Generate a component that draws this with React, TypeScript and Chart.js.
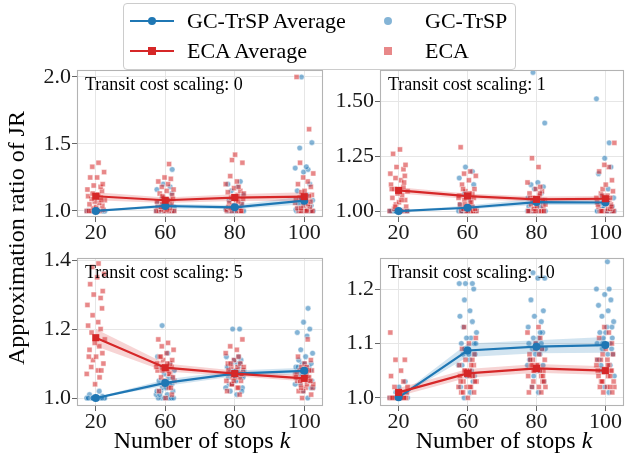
import React, { useEffect, useRef } from "react";
import Chart from "chart.js/auto";

// ---------- data ----------
const X_POS = [0, 1, 2, 3];
const X_LABELS = ["20", "60", "80", "100"];

const JITTER = [-0.12, 0.07, -0.03, 0.1, -0.08, 0.02, 0.12, -0.05, 0.04, -0.1, 0.08, -0.01, 0.055, -0.13, 0.03,
  -0.065, 0.11, -0.04, 0.005, 0.095, -0.09, 0.05, -0.015, 0.13, -0.06, 0.07, -0.11, 0.035, -0.045, 0.09];

// Transit cost scaling: 0
const GC0 = [
  [1, 1, 1, 1, 1, 1, 1, 1, 1, 1, 1, 1, 1, 1, 1, 1, 1, 1, 1, 1, 1, 1, 1, 1, 1, 1.003, 1.005, 1.01, 1, 1],
  [1, 1, 1, 1, 1, 1, 1, 1, 1, 1, 1, 1, 1.01, 1.01, 1.02, 1.02, 1.03, 1.04, 1.05, 1.06, 1.08, 1.1, 1.13, 1.16, 1.18, 1.2, 1.31, 1, 1.02, 1],
  [1, 1, 1, 1, 1, 1, 1, 1, 1, 1, 1, 1, 1, 1, 1.01, 1.01, 1.02, 1.03, 1.04, 1.06, 1.08, 1.1, 1.12, 1.15, 1.18, 1.2, 1.22, 1, 1, 1.01],
  [1, 1, 1, 1, 1, 1, 1, 1, 1, 1.01, 1.02, 1.03, 1.04, 1.05, 1.06, 1.08, 1.1, 1.12, 1.15, 1.2, 1.29, 1.31, 1.32, 1.33, 1.47, 1.51, 2.0, 1, 1, 1.01],
];
const ECA0 = [
  [1, 1, 1, 1, 1, 1.01, 1.02, 1.03, 1.04, 1.05, 1.06, 1.07, 1.08, 1.09, 1.1, 1.11, 1.12, 1.13, 1.15, 1.16, 1.18, 1.19, 1.2, 1.25, 1.25, 1.29, 1.33, 1.36, 1, 1.08],
  [1, 1, 1, 1, 1, 1, 1.01, 1.02, 1.03, 1.04, 1.05, 1.06, 1.07, 1.08, 1.1, 1.12, 1.13, 1.15, 1.16, 1.18, 1.2, 1.22, 1.24, 1.25, 1.35, 1, 1.01, 1.03, 1.09, 1.11],
  [1, 1, 1, 1, 1, 1.01, 1.02, 1.04, 1.05, 1.06, 1.08, 1.09, 1.1, 1.12, 1.14, 1.15, 1.17, 1.18, 1.2, 1.22, 1.26, 1.36, 1.38, 1.42, 1, 1.03, 1.07, 1.11, 1.13, 1.02],
  [1, 1, 1, 1, 1, 1, 1.01, 1.02, 1.03, 1.04, 1.05, 1.06, 1.08, 1.1, 1.12, 1.14, 1.15, 1.18, 1.2, 1.22, 1.25, 1.28, 1.36, 1.61, 2.0, 1, 1.02, 1.07, 1.09, 1.11],
];
const GC0_MEAN = [1.0, 1.037, 1.027, 1.077];
const GC0_LO = [1.0, 1.02, 1.012, 1.05];
const GC0_HI = [1.002, 1.052, 1.045, 1.11];
const ECA0_MEAN = [1.11, 1.08, 1.1, 1.107];
const ECA0_LO = [1.08, 1.06, 1.075, 1.075];
const ECA0_HI = [1.14, 1.1, 1.125, 1.14];

// Transit cost scaling: 1
const GC1 = [
  [1, 1, 1, 1, 1, 1, 1, 1, 1, 1, 1, 1, 1, 1, 1, 1, 1, 1, 1, 1, 1, 1, 1, 1, 1, 1.003, 1, 1.002, 1, 1],
  [1, 1, 1, 1, 1, 1, 1, 1, 1, 1, 1, 1, 1, 1, 1, 1, 1.01, 1.01, 1.02, 1.03, 1.05, 1.08, 1.12, 1.15, 1.18, 1.2, 1, 1, 1, 1],
  [1, 1, 1, 1, 1, 1, 1, 1, 1, 1, 1, 1.01, 1.02, 1.03, 1.04, 1.05, 1.06, 1.08, 1.1, 1.11, 1.12, 1.13, 1.4, 1.63, 1, 1, 1, 1.01, 1.02, 1],
  [1, 1, 1, 1, 1, 1, 1, 1, 1, 1, 1, 1.01, 1.02, 1.03, 1.04, 1.06, 1.07, 1.1, 1.17, 1.2, 1.24, 1.31, 1.51, 1, 1, 1, 1.01, 1, 1.02, 1],
];
const ECA1 = [
  [1, 1, 1, 1, 1.01, 1.02, 1.03, 1.04, 1.05, 1.06, 1.07, 1.08, 1.09, 1.1, 1.11, 1.12, 1.14, 1.15, 1.16, 1.17, 1.19, 1.2, 1.21, 1.26, 1.28, 1, 1.02, 1.05, 1.1, 1.13],
  [1, 1, 1, 1, 1, 1, 1.01, 1.02, 1.03, 1.04, 1.05, 1.06, 1.07, 1.08, 1.09, 1.1, 1.12, 1.14, 1.16, 1.17, 1.18, 1.29, 1, 1.02, 1.04, 1.06, 1.08, 1.1, 1.01, 1.03],
  [1, 1, 1, 1, 1, 1, 1, 1.01, 1.02, 1.03, 1.04, 1.05, 1.06, 1.07, 1.08, 1.09, 1.1, 1.11, 1.13, 1.2, 1.24, 1, 1.01, 1.02, 1.04, 1.06, 1.08, 1, 1.03, 1.05],
  [1, 1, 1, 1, 1, 1, 1.01, 1.02, 1.03, 1.04, 1.05, 1.06, 1.07, 1.08, 1.09, 1.1, 1.12, 1.14, 1.18, 1.2, 1.21, 1.31, 1, 1.01, 1.03, 1.05, 1.07, 1.02, 1.04, 1.06],
];
const GC1_MEAN = [1.0, 1.015, 1.041, 1.039];
const GC1_LO = [1.0, 1.008, 1.028, 1.027];
const GC1_HI = [1.001, 1.025, 1.057, 1.056];
const ECA1_MEAN = [1.094, 1.068, 1.053, 1.056];
const ECA1_LO = [1.08, 1.055, 1.042, 1.044];
const ECA1_HI = [1.108, 1.08, 1.066, 1.068];

// Transit cost scaling: 5
const GC5 = [
  [1, 1, 1, 1, 1, 1, 1, 1, 1, 1, 1, 1, 1, 1, 1, 1, 1, 1, 1, 1.005, 1.01, 1.02, 1, 1, 1, 1, 1, 1, 1, 1],
  [1, 1, 1, 1, 1, 1, 1.01, 1.01, 1.02, 1.02, 1.03, 1.03, 1.04, 1.05, 1.06, 1.07, 1.08, 1.09, 1.1, 1.12, 1.13, 1.21, 1, 1.02, 1.04, 1.05, 1.06, 1.01, 1.03, 1],
  [1.01, 1.02, 1.03, 1.04, 1.05, 1.06, 1.06, 1.07, 1.07, 1.08, 1.08, 1.09, 1.09, 1.1, 1.1, 1.11, 1.12, 1.2, 1.2, 1.02, 1.04, 1.05, 1.06, 1.07, 1.08, 1.09, 1.1, 1.11, 1.12, 1.03],
  [1, 1.02, 1.03, 1.04, 1.05, 1.06, 1.07, 1.08, 1.08, 1.09, 1.09, 1.1, 1.1, 1.11, 1.12, 1.13, 1.14, 1.18, 1.19, 1.2, 1.22, 1.26, 1.04, 1.06, 1.07, 1.05, 1.08, 1.1, 1.03, 1.09],
];
const ECA5 = [
  [1.04, 1.06, 1.07, 1.08, 1.09, 1.1, 1.11, 1.12, 1.13, 1.14, 1.15, 1.16, 1.17, 1.19, 1.2, 1.21, 1.22, 1.24, 1.26, 1.27, 1.29, 1.3, 1.31, 1.33, 1.35, 1.36, 1.38, 1.39, 1.12, 1.08],
  [1, 1.01, 1.02, 1.03, 1.04, 1.05, 1.06, 1.07, 1.08, 1.08, 1.09, 1.09, 1.1, 1.1, 1.11, 1.11, 1.12, 1.13, 1.14, 1.15, 1.16, 1.17, 1.03, 1.05, 1.07, 1.09, 1.1, 1.12, 1.06, 1.08],
  [1.01, 1.02, 1.03, 1.04, 1.05, 1.05, 1.06, 1.06, 1.07, 1.07, 1.08, 1.08, 1.09, 1.09, 1.1, 1.1, 1.11, 1.12, 1.13, 1.14, 1.15, 1.17, 1.04, 1.06, 1.07, 1.08, 1.03, 1.05, 1.09, 1.1],
  [1, 1.01, 1.02, 1.03, 1.03, 1.04, 1.04, 1.05, 1.05, 1.06, 1.06, 1.07, 1.07, 1.08, 1.08, 1.09, 1.1, 1.11, 1.12, 1.17, 1.02, 1.04, 1.05, 1.06, 1.07, 1.09, 1.03, 1.05, 1.06, 1.08],
];
const GC5_MEAN = [1.0, 1.044, 1.071, 1.079];
const GC5_LO = [1.0, 1.035, 1.063, 1.07];
const GC5_HI = [1.002, 1.054, 1.08, 1.088];
const ECA5_MEAN = [1.175, 1.088, 1.071, 1.057];
const ECA5_LO = [1.15, 1.077, 1.063, 1.049];
const ECA5_HI = [1.2, 1.1, 1.08, 1.066];

// Transit cost scaling: 10
const GC10 = [
  [1, 1, 1, 1, 1, 1, 1, 1, 1, 1, 1, 1, 1, 1, 1, 1, 1.005, 1.01, 1.02, 1.03, 1, 1, 1, 1, 1, 1, 1, 1, 1, 1],
  [1, 1.01, 1.02, 1.03, 1.04, 1.05, 1.06, 1.07, 1.08, 1.08, 1.09, 1.09, 1.1, 1.1, 1.11, 1.11, 1.12, 1.13, 1.14, 1.15, 1.16, 1.18, 1.2, 1.21, 1.21, 1.21, 1.04, 1.06, 1.08, 1.1],
  [1.01, 1.02, 1.03, 1.04, 1.05, 1.06, 1.07, 1.08, 1.08, 1.09, 1.09, 1.1, 1.1, 1.11, 1.11, 1.12, 1.13, 1.14, 1.15, 1.16, 1.18, 1.22, 1.22, 1.23, 1.05, 1.07, 1.09, 1.1, 1.12, 1.06],
  [1.01, 1.02, 1.04, 1.05, 1.06, 1.07, 1.08, 1.09, 1.09, 1.1, 1.1, 1.11, 1.11, 1.12, 1.13, 1.14, 1.15, 1.16, 1.17, 1.18, 1.19, 1.2, 1.2, 1.25, 1.06, 1.08, 1.1, 1.12, 1.13, 1.07],
];
const ECA10 = [
  [1, 1, 1, 1, 1, 1, 1, 1, 1, 1, 1.01, 1.01, 1.02, 1.02, 1.03, 1.04, 1.05, 1.07, 1.07, 1.12, 1, 1, 1, 1, 1.005, 1.01, 1, 1, 1, 1],
  [1, 1.01, 1.01, 1.02, 1.02, 1.03, 1.03, 1.04, 1.04, 1.05, 1.05, 1.06, 1.06, 1.07, 1.07, 1.08, 1.09, 1.1, 1.11, 1.13, 1.02, 1.03, 1.04, 1.05, 1.06, 1.02, 1.04, 1.01, 1.03, 1.05],
  [1.01, 1.01, 1.02, 1.03, 1.03, 1.04, 1.04, 1.05, 1.05, 1.06, 1.06, 1.07, 1.07, 1.08, 1.08, 1.09, 1.1, 1.11, 1.12, 1.13, 1.02, 1.03, 1.05, 1.06, 1.04, 1.07, 1.05, 1.09, 1.02, 1.06],
  [1.01, 1.01, 1.02, 1.02, 1.03, 1.03, 1.04, 1.04, 1.05, 1.05, 1.06, 1.06, 1.07, 1.07, 1.08, 1.08, 1.09, 1.1, 1.11, 1.12, 1.13, 1.02, 1.03, 1.04, 1.05, 1.06, 1.03, 1.05, 1.07, 1.02],
];
const GC10_MEAN = [1.001, 1.087, 1.094, 1.097];
const GC10_LO = [1.0, 1.075, 1.082, 1.083];
const GC10_HI = [1.003, 1.1, 1.106, 1.112];
const ECA10_MEAN = [1.01, 1.045, 1.054, 1.05];
const ECA10_LO = [1.003, 1.037, 1.046, 1.042];
const ECA10_HI = [1.018, 1.053, 1.062, 1.058];

const Y_TICKS_0 = [1.0, 1.5, 2.0];
const Y_LABELS_0 = ["1.0", "1.5", "2.0"];
const Y_TICKS_1 = [1.0, 1.25, 1.5];
const Y_LABELS_1 = ["1.00", "1.25", "1.50"];
const Y_TICKS_5 = [1.0, 1.2, 1.4];
const Y_LABELS_5 = ["1.0", "1.2", "1.4"];
const Y_TICKS_10 = [1.0, 1.1, 1.2];
const Y_LABELS_10 = ["1.0", "1.1", "1.2"];

const SCALINGS = ["0", "1", "5", "10"];

// ---------- styling ----------
const FONT = "'Liberation Serif', 'Times New Roman', Times, serif";
const BLUE = "#1f77b4";
const RED = "#d62728";

const framePlugin = {
  id: "frame",
  afterDraw(chart: any) {
    const { ctx, chartArea } = chart;
    const { left, top, right, bottom } = chartArea;
    ctx.save();
    ctx.strokeStyle = "#b3b3b3";
    ctx.lineWidth = 1.1;
    ctx.strokeRect(Math.round(left) + 0.5, Math.round(top) + 0.5, Math.round(right - left) - 1, Math.round(bottom - top) - 1);
    ctx.restore();
  },
};

function scatterPts(groups: number[][], shift: number) {
  const pts: { x: number; y: number }[] = [];
  groups.forEach((vals, ci) =>
    vals.forEach((v, i) => pts.push({ x: X_POS[ci] + JITTER[(i + ci * 7 + shift) % JITTER.length], y: v }))
  );
  return pts;
}
const linePts = (arr: number[]) => arr.map((v, i) => ({ x: X_POS[i], y: v }));

type PanelProps = {
  L: number; T: number; R: number; B: number;
  yMin: number; yMax: number; yTicks: number[]; yLabels: string[];
  gc: number[][]; eca: number[][];
  gcMean: number[]; gcLo: number[]; gcHi: number[];
  ecaMean: number[]; ecaLo: number[]; ecaHi: number[];
  scaling: string;
};

const Y_W = 70;
const X_H = 34;
const PAD_T = 14;

function Panel(p: PanelProps) {
  const ref = useRef<HTMLCanvasElement | null>(null);
  const cl = p.L - Y_W;
  const ct = p.T - PAD_T;
  const cr = Math.min(629, p.R + 1);
  const cw = cr - cl;
  const ch = p.B + X_H - ct;
  useEffect(() => {
    if (!ref.current) return;
    const chart = new Chart(ref.current, {
      type: "scatter",
      data: {
        datasets: [
          {
            type: "scatter", data: scatterPts(p.gc, 0), order: 6, pointStyle: "circle", pointRadius: 2.8,
            backgroundColor: "rgba(31,119,180,0.55)", borderColor: "rgba(255,255,255,0.75)", borderWidth: 0.6,
          },
          {
            type: "scatter", data: scatterPts(p.eca, 11), order: 5, pointStyle: "rect", pointRadius: 3.6,
            backgroundColor: "rgba(214,39,40,0.55)", borderColor: "rgba(255,255,255,0.75)", borderWidth: 0.6,
          },
          { type: "line", data: linePts(p.gcHi), order: 4, showLine: true, borderWidth: 0, pointRadius: 0, fill: false },
          { type: "line", data: linePts(p.gcLo), order: 4, showLine: true, borderWidth: 0, pointRadius: 0, fill: "-1", backgroundColor: "rgba(31,119,180,0.2)" },
          { type: "line", data: linePts(p.ecaHi), order: 3, showLine: true, borderWidth: 0, pointRadius: 0, fill: false },
          { type: "line", data: linePts(p.ecaLo), order: 3, showLine: true, borderWidth: 0, pointRadius: 0, fill: "-1", backgroundColor: "rgba(214,39,40,0.2)" },
          {
            type: "line", data: linePts(p.gcMean), order: 1, showLine: true, borderColor: BLUE, borderWidth: 2.2,
            pointStyle: "circle", pointRadius: 4, pointBackgroundColor: BLUE, pointBorderWidth: 0, fill: false, tension: 0,
          },
          {
            type: "line", data: linePts(p.ecaMean), order: 0, showLine: true, borderColor: RED, borderWidth: 2.2,
            pointStyle: "rect", pointRadius: 5, pointBackgroundColor: RED, pointBorderWidth: 0, fill: false, tension: 0,
          },
        ] as any,
      },
      options: {
        animation: false,
        responsive: false,
        devicePixelRatio: 1,
        layout: { padding: { top: PAD_T, right: cr - p.R, left: 0, bottom: 0 } },
        plugins: { legend: { display: false }, tooltip: { enabled: false } },
        events: [],
        scales: {
          x: {
            type: "linear", min: -0.27, max: 3.27,
            afterBuildTicks: (s: any) => { s.ticks = X_POS.map((v) => ({ value: v })); },
            afterFit: (s: any) => { s.height = X_H; s.paddingLeft = 0; s.paddingRight = 0; },
            ticks: {
              callback: (_v: any, i: number) => X_LABELS[i],
              font: { family: FONT, size: 22, lineHeight: 1 }, color: "#1a1a1a", padding: 0,
              maxRotation: 0, autoSkip: false,
            },
            grid: { color: "#e6e6e6", tickColor: "#666", tickLength: 5, lineWidth: 1 },
            border: { display: false },
          },
          y: {
            type: "linear", min: p.yMin, max: p.yMax,
            afterBuildTicks: (s: any) => { s.ticks = p.yTicks.map((v) => ({ value: v })); },
            afterFit: (s: any) => { s.width = Y_W; s.paddingTop = 0; s.paddingBottom = 0; },
            ticks: {
              callback: (_v: any, i: number) => p.yLabels[i],
              font: { family: FONT, size: 22, lineHeight: 1 }, color: "#1a1a1a", padding: 1, autoSkip: false,
            },
            grid: { color: "#e6e6e6", tickColor: "#666", tickLength: 5, lineWidth: 1 },
            border: { display: false },
          },
        },
      } as any,
      plugins: [framePlugin],
    });
    return () => chart.destroy();
  }, []);
  return (
    <>
      <canvas ref={ref} width={cw} height={ch}
        style={{ position: "absolute", left: cl, top: ct, width: cw, height: ch }} />
      <div style={{
        position: "absolute", left: p.L + 8, top: p.T + 2, fontFamily: FONT, fontSize: 18,
        lineHeight: "24px", color: "#000", whiteSpace: "nowrap",
      }}>Transit cost scaling: {p.scaling}</div>
    </>
  );
}

function LegendRow(props: { y: number; color: string; square: boolean; label: string; label2: string; alpha: string }) {
  const { y, color, square, label, label2, alpha } = props;
  const text = (x: number, s: string) => (
    <div style={{ position: "absolute", left: x, top: y - 13, height: 26, lineHeight: "26px", fontSize: 22, whiteSpace: "nowrap" }}>{s}</div>
  );
  const m = 8;
  return (
    <>
      <div style={{ position: "absolute", left: 130, top: y - 1, width: 44, height: 2.2, background: color }} />
      <div style={{
        position: "absolute", left: 152 - m / 2, top: y - m / 2 + 0.1, width: m, height: m,
        background: color, borderRadius: square ? 0 : "50%",
      }} />
      {text(187, label)}
      <div style={{
        position: "absolute", left: 388 - m / 2, top: y - m / 2, width: m, height: m,
        background: alpha, borderRadius: square ? 0 : "50%",
      }} />
      {text(425, label2)}
    </>
  );
}

export default function App() {
  useEffect(() => {
    document.body.style.margin = "0";
  }, []);
  return (
    <div style={{ position: "fixed", left: 0, top: 0, width: 629, height: 454, background: "#fff", overflow: "hidden", fontFamily: FONT, color: "#000" }}>
      <Panel L={77} T={70} R={327} B={217} yMin={0.955} yMax={2.052} yTicks={Y_TICKS_0} yLabels={Y_LABELS_0}
        gc={GC0} eca={ECA0} gcMean={GC0_MEAN} gcLo={GC0_LO} gcHi={GC0_HI} ecaMean={ECA0_MEAN} ecaLo={ECA0_LO} ecaHi={ECA0_HI} scaling={SCALINGS[0]} />
      <Panel L={380} T={70} R={628} B={217} yMin={0.973} yMax={1.641} yTicks={Y_TICKS_1} yLabels={Y_LABELS_1}
        gc={GC1} eca={ECA1} gcMean={GC1_MEAN} gcLo={GC1_LO} gcHi={GC1_HI} ecaMean={ECA1_MEAN} ecaLo={ECA1_LO} ecaHi={ECA1_HI} scaling={SCALINGS[1]} />
      <Panel L={77} T={258} R={327} B={406} yMin={0.977} yMax={1.406} yTicks={Y_TICKS_5} yLabels={Y_LABELS_5}
        gc={GC5} eca={ECA5} gcMean={GC5_MEAN} gcLo={GC5_LO} gcHi={GC5_HI} ecaMean={ECA5_MEAN} ecaLo={ECA5_LO} ecaHi={ECA5_HI} scaling={SCALINGS[2]} />
      <Panel L={380} T={258} R={628} B={406} yMin={0.985} yMax={1.257} yTicks={Y_TICKS_10} yLabels={Y_LABELS_10}
        gc={GC10} eca={ECA10} gcMean={GC10_MEAN} gcLo={GC10_LO} gcHi={GC10_HI} ecaMean={ECA10_MEAN} ecaLo={ECA10_LO} ecaHi={ECA10_HI} scaling={SCALINGS[3]} />

      {/* shared axis titles */}
      <div style={{
        position: "absolute", left: 16, top: 238, transform: "translate(-50%, -50%) rotate(-90deg)",
        fontSize: 24, whiteSpace: "nowrap", lineHeight: "28px",
      }}>Approximation ratio of JR</div>
      <div style={{ position: "absolute", left: 202, top: 440, transform: "translate(-50%, -50%)", fontSize: 24, whiteSpace: "nowrap", lineHeight: "28px" }}>
        Number of stops <i>k</i>
      </div>
      <div style={{ position: "absolute", left: 504, top: 440, transform: "translate(-50%, -50%)", fontSize: 24, whiteSpace: "nowrap", lineHeight: "28px" }}>
        Number of stops <i>k</i>
      </div>

      {/* legend */}
      <div style={{
        position: "absolute", left: 123, top: 3, width: 393, height: 67, background: "rgba(255,255,255,0.92)",
        border: "1px solid #cccccc", borderRadius: 4, boxSizing: "border-box",
      }} />
      <LegendRow y={21} color={BLUE} square={false} label="GC-TrSP Average" label2="GC-TrSP" alpha="rgba(31,119,180,0.55)" />
      <LegendRow y={51} color={RED} square={true} label="ECA Average" label2="ECA" alpha="rgba(214,39,40,0.55)" />
    </div>
  );
}
